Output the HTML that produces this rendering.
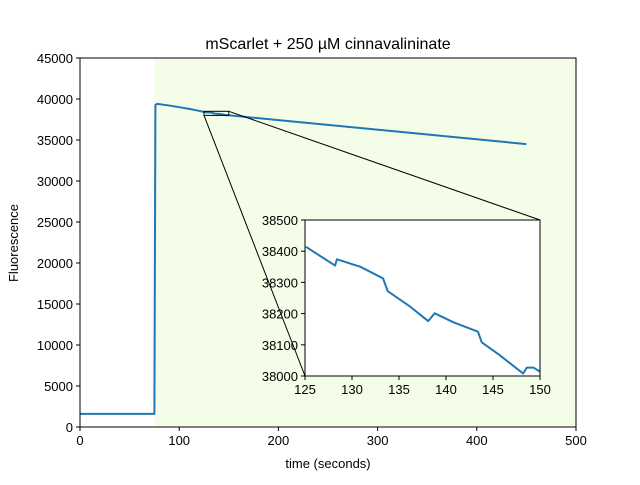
<!DOCTYPE html>
<html><head><meta charset="utf-8"><style>
body{margin:0;background:#fff}
svg{font-family:"Liberation Sans","DejaVu Sans",sans-serif}
</style></head><body>
<svg id="c" width="640" height="480" viewBox="0 0 640 480" xmlns="http://www.w3.org/2000/svg"></svg>
<script>
const times=[0,75,75.5,76,78,90,100,110,120,125.1,128.2,128.4,130.9,133.3,133.8,136.2,138.1,138.8,140.8,143.4,143.8,145.7,148.2,148.6,149.3,150,450];
const fluor=[1600,1600,20000,39300,39400,39200,39000,38800,38560,38414,38354,38374,38350,38313,38272,38222,38176,38201,38172,38142,38108,38067,38008,38027,38027,38014,34500];
const xTicks=[0,100,200,300,400,500];
const yTicks=[0,5000,10000,15000,20000,25000,30000,35000,40000,45000];
const insetXTicks=[125,130,135,140,145,150];
const insetYTicks=[38000,38100,38200,38300,38400,38500];
const shadeStart=75, shadeEnd=500;

const NS="http://www.w3.org/2000/svg";
const svg=document.getElementById('c');
function el(t,a,p){const e=document.createElementNS(NS,t);for(const k in a)e.setAttribute(k,a[k]);(p||svg).appendChild(e);return e;}
const X=v=>80+(v/500)*496, Y=v=>427-(v/45000)*369;
const IX=v=>305+(v-125)/25*235, IY=v=>376-(v-38000)/500*156;

let r=el('rect',{x:80,y:58,width:496,height:369,fill:'#fff'});


let sh=el('rect',{x:X(shadeStart),y:58,width:X(shadeEnd)-X(shadeStart),height:369,fill:'#f3fde8'});



let pts=times.map((t,i)=>X(t)+','+Y(fluor[i])).join(' ');
let ln=el('polyline',{points:pts,fill:'none',stroke:'#1f77b4','stroke-width':2,'stroke-linejoin':'round'});



let zr=el('rect',{x:X(125),y:Y(38500),width:X(150)-X(125),height:Y(38000)-Y(38500),fill:'none',stroke:'#000','stroke-width':1});


let c1=el('line',{x1:X(125),y1:Y(38000),x2:305,y2:376,stroke:'#000','stroke-width':1});


let c2=el('line',{x1:X(150),y1:Y(38500),x2:540,y2:220,stroke:'#000','stroke-width':1});



let fr=el('rect',{x:80,y:58,width:496,height:369,fill:'none',stroke:'#000','stroke-width':1});



xTicks.forEach(v=>{el('line',{x1:X(v),y1:427,x2:X(v),y2:431,stroke:'#000'});
 let t=el('text',{x:X(v),y:445,'text-anchor':'middle','font-size':13});t.textContent=v;
 });
yTicks.forEach(v=>{el('line',{x1:76,y1:Y(v),x2:80,y2:Y(v),stroke:'#000'});
 let t=el('text',{x:73,y:Y(v)+5,'text-anchor':'end','font-size':13});t.textContent=v;
 });

let tt=el('text',{x:328,y:49,'text-anchor':'middle','font-size':16});tt.textContent='mScarlet + 250 µM cinnavalininate';

let xt=el('text',{x:328,y:468,'text-anchor':'middle','font-size':13});xt.textContent='time (seconds)';

let yt=el('text',{x:18,y:243,'text-anchor':'middle','font-size':13,transform:'rotate(-90 18 243)'});yt.textContent='Fluorescence';


let ib=el('rect',{x:305,y:220,width:235,height:156,fill:'#fff'});

let ipts=[];times.forEach((t,i)=>{if(t>=125&&t<=150)ipts.push(IX(t)+','+IY(fluor[i]));});
let il=el('polyline',{points:ipts.join(' '),fill:'none',stroke:'#1f77b4','stroke-width':2,'stroke-linejoin':'round'});

let ifr=el('rect',{x:305,y:220,width:235,height:156,fill:'none',stroke:'#000'});

insetXTicks.forEach(v=>{el('line',{x1:IX(v),y1:376,x2:IX(v),y2:380,stroke:'#000'});
 let t=el('text',{x:IX(v),y:394,'text-anchor':'middle','font-size':13});t.textContent=v;
 });
insetYTicks.forEach(v=>{el('line',{x1:301,y1:IY(v),x2:305,y2:IY(v),stroke:'#000'});
 let t=el('text',{x:298,y:IY(v)+5,'text-anchor':'end','font-size':13});t.textContent=v;
 });
</script>
</body></html>
